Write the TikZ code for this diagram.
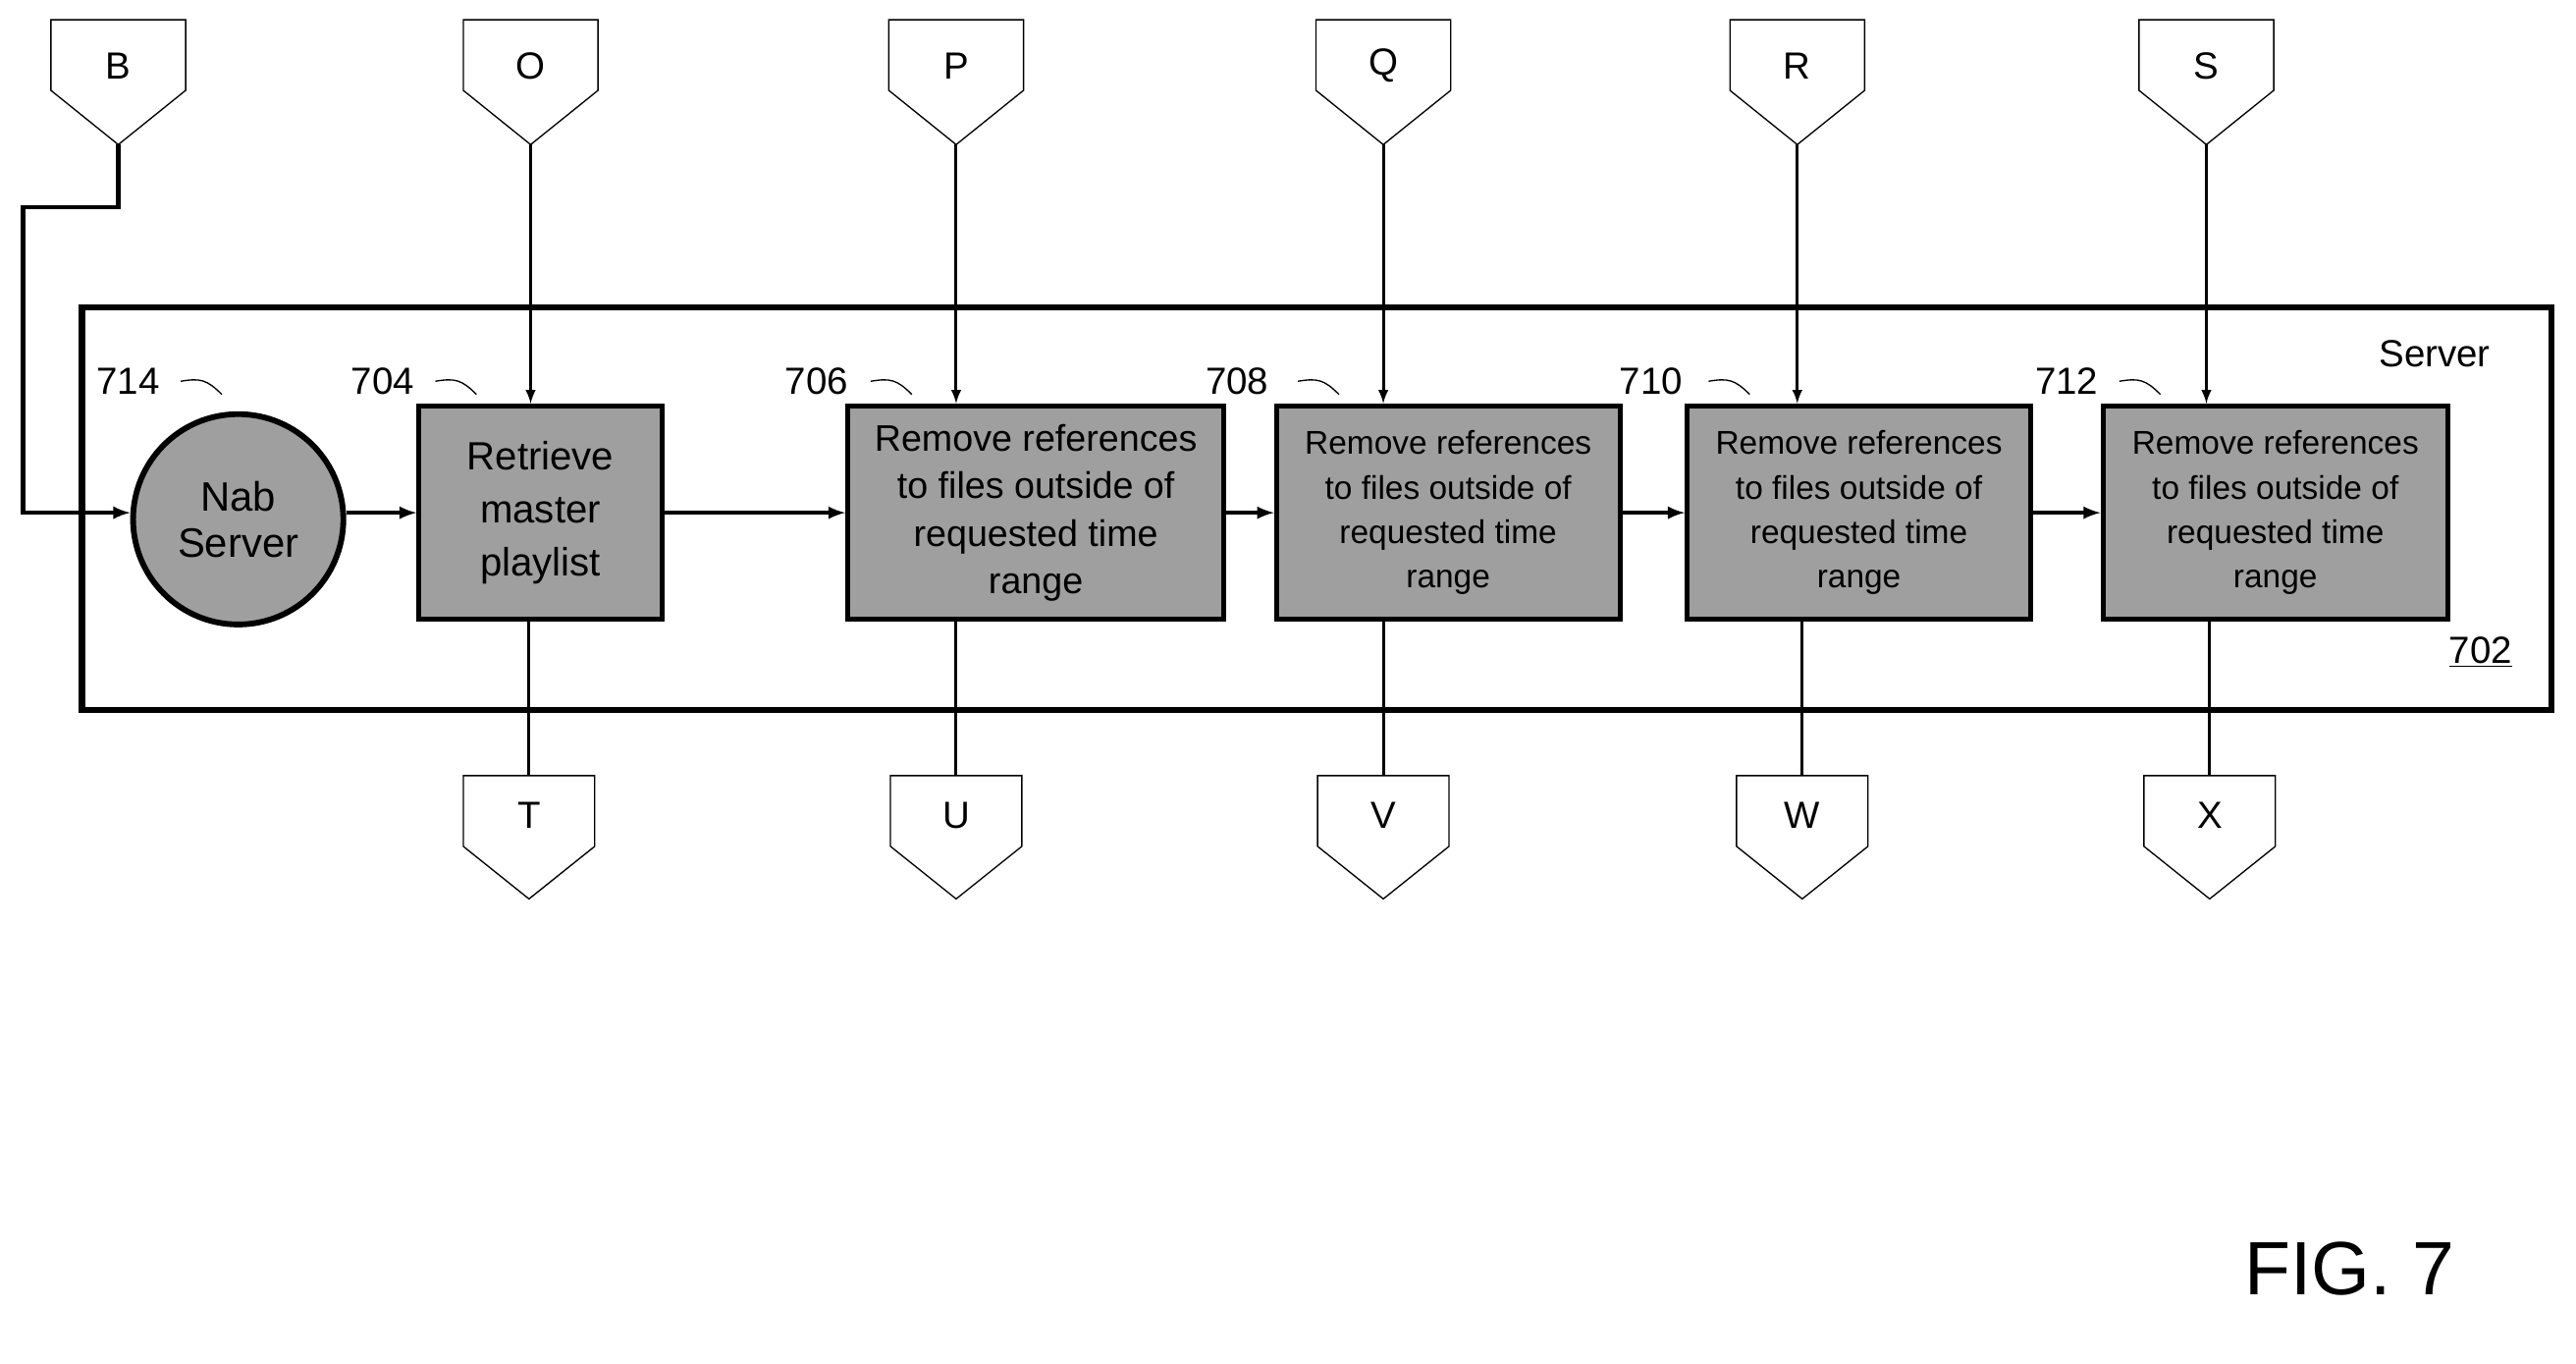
\documentclass[tikz,border=0pt]{standalone}
\usepackage{fontspec}
\setmainfont{Liberation Sans}
\begin{document}
\begin{tikzpicture}[x=1pt,y=-1pt,
  box/.style={draw,line width=3pt,fill=gray!75,align=center,font=\fontsize{20}{27}\selectfont,inner sep=0pt},
  ln/.style={line width=1.8pt},
  arr/.style={ln,-latex},
  lbl/.style={font=\fontsize{23}{26}\selectfont},
  pg/.style={line width=0.8pt}]
\useasboundingbox (0,0) rectangle (1568,830);
\draw[line width=4pt] (50,187) rectangle (1553,432);
\node[lbl] at (1482,215) {Server};
\node[lbl] at (1510,397) {\underline{702}};
\node[draw,circle,line width=3.5pt,fill=gray!75,minimum size=128pt,align=center,font=\fontsize{25}{28}\selectfont,inner sep=0pt] (n714) at (145,316) {Nab\\Server};
\node[box,minimum width=148pt,minimum height=130pt,font=\fontsize{24}{32}\selectfont] (n704) at (329,312) {Retrieve\\master\\playlist};
\node[box,minimum width=229pt,minimum height=130pt,font=\fontsize{22.5}{29}\selectfont] (n706) at (630.5,312) {Remove references\\to files outside of\\requested time\\range};
\node[box,minimum width=209pt,minimum height=130pt] (n708) at (881.5,312) {Remove references\\to files outside of\\requested time\\range};
\node[box,minimum width=209pt,minimum height=130pt] (n710) at (1131.5,312) {Remove references\\to files outside of\\requested time\\range};
\node[box,minimum width=210pt,minimum height=130pt] (n712) at (1385,312) {Remove references\\to files outside of\\requested time\\range};
% ref labels
\foreach \t/\x/\lx in {714/78/110,704/233/265,706/497/530,708/753/790,710/1005/1040,712/1258/1290}{
  \node[lbl] at (\x,232) {\t};
  \draw[pg] (\lx,232) .. controls (\lx+12,230) and (\lx+16,231) .. (\lx+25,240);
}
% top connectors
\foreach \n/\t/\c in {tB/B/72,tO/O/323,tP/P/582,tQ/Q/842,tR/R/1094,tS/S/1343}{
  \draw[pg] (\c-41,12) -- (\c+41,12) -- (\c+41,55) -- (\c,88) -- (\c-41,55) -- cycle;
  \node[lbl] at (\c,40) {\t};
  \coordinate (\n) at (\c,88);
}
% bottom connectors
\foreach \n/\t/\c in {bT/T/322,bU/U/582,bV/V/842,bW/W/1097,bX/X/1345}{
  \draw[pg] (\c-40,472) -- (\c+40,472) -- (\c+40,515) -- (\c,547) -- (\c-40,515) -- cycle;
  \node[lbl] at (\c,496) {\t};
  \coordinate (\n) at (\c,472);
}
\draw[arr,line width=2.5pt] (tB) -- (72,126) -- (14,126) -- (14,312) -- (n714.west|-0,312);
\draw[arr] (tO) -- (tO|-n704.north);
\draw[arr] (tP) -- (tP|-n706.north);
\draw[arr] (tQ) -- (tQ|-n708.north);
\draw[arr] (tR) -- (tR|-n710.north);
\draw[arr] (tS) -- (tS|-n712.north);
\draw[ln] (bT|-n704.south) -- (bT);
\draw[ln] (bU|-n706.south) -- (bU);
\draw[ln] (bV|-n708.south) -- (bV);
\draw[ln] (bW|-n710.south) -- (bW);
\draw[ln] (bX|-n712.south) -- (bX);
\draw[arr,line width=2.5pt] (n714.east|-0,312) -- (n704.west|-0,312);
\draw[arr,line width=2.5pt] (n704.east|-0,312) -- (n706.west|-0,312);
\draw[arr,line width=2.5pt] (n706.east|-0,312) -- (n708.west|-0,312);
\draw[arr,line width=2.5pt] (n708.east|-0,312) -- (n710.west|-0,312);
\draw[arr,line width=2.5pt] (n710.east|-0,312) -- (n712.west|-0,312);
\node[font=\fontsize{46}{50}\selectfont] at (1430,772) {FIG. 7};
\end{tikzpicture}
\end{document}
